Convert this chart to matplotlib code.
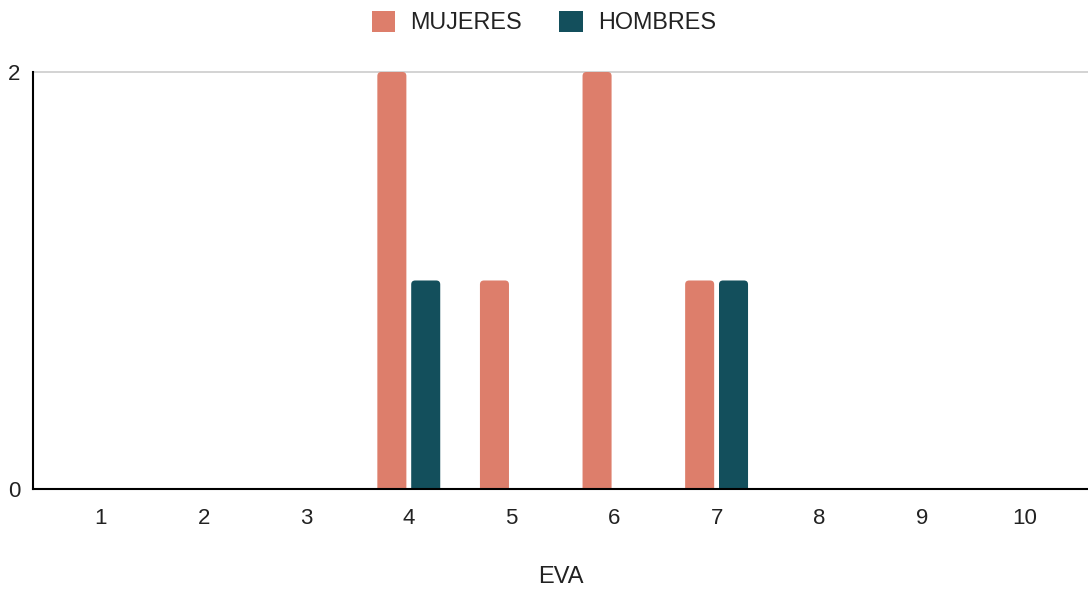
import matplotlib.pyplot as plt
from matplotlib.patches import FancyBboxPatch
import numpy as np

plt.rcParams['font.family'] = ['Liberation Sans', 'DejaVu Sans']

categories = ["1", "2", "3", "4", "5", "6", "7", "8", "9", "10"]
mujeres = [0, 0, 0, 2, 1, 2, 1, 0, 0, 0]
hombres = [0, 0, 0, 1, 0, 0, 1, 0, 0, 0]

c_muj = "#dd7e6b"
c_hom = "#134f5c"

fig = plt.figure(figsize=(10.88, 5.90), dpi=100)
ax = fig.add_axes([0.0303, 0.1712, 0.9697, 0.7068])

x = np.arange(1, len(categories) + 1)
w = 0.283
off = 0.165

ax.set_xlim(0.337, 10.62)
ax.set_ylim(0, 2)

# px per data unit, to keep rounded corners circular
px_x = 1055 / (10.62 - 0.337)
px_y = 417 / 2.0
r = 4 / px_x

def rounded_bars(xs, vals, color):
    for xi, v in zip(xs, vals):
        if v <= 0:
            continue
        # start slightly below zero so only the top corners show rounding
        p = FancyBboxPatch((xi - w / 2, -0.05), w, v + 0.05,
                           boxstyle="round,pad=0,rounding_size=%f" % r,
                           mutation_aspect=px_x / px_y,
                           fc=color, ec="none", zorder=3, clip_on=True)
        ax.add_patch(p)

rounded_bars(x - off, mujeres, c_muj)
rounded_bars(x + off, hombres, c_hom)

ax.axhline(2, color="#cccccc", lw=1.2, zorder=1, clip_on=False)

for s in ["top", "right"]:
    ax.spines[s].set_visible(False)
ax.spines["left"].set_linewidth(1.5)
ax.spines["bottom"].set_linewidth(1.5)
ax.spines["left"].set_zorder(4)
ax.spines["bottom"].set_zorder(4)

ax.set_xticks(x)
ax.set_xticklabels(categories, fontsize=16, color="#222222")
ax.set_yticks([0, 2])
ax.set_yticklabels(["0", "2"], fontsize=16, color="#222222")
ax.tick_params(axis="both", length=0)
ax.tick_params(axis="x", pad=14)
ax.tick_params(axis="y", pad=9)

ax.set_xlabel("EVA", fontsize=17, color="#222222", labelpad=26)

handles = [plt.Rectangle((0, 0), 1, 1, fc=c_muj, ec="none"),
           plt.Rectangle((0, 0), 1, 1, fc=c_hom, ec="none")]
fig.legend(handles, ["MUJERES", "HOMBRES"], loc="center", bbox_to_anchor=(0.5, 0.962),
           ncol=2, frameon=False, fontsize=16.8, handlelength=1.0, handleheight=1.0,
           handletextpad=0.65, columnspacing=1.6, labelcolor="#222222")

fig.savefig("out.png", dpi=100)
